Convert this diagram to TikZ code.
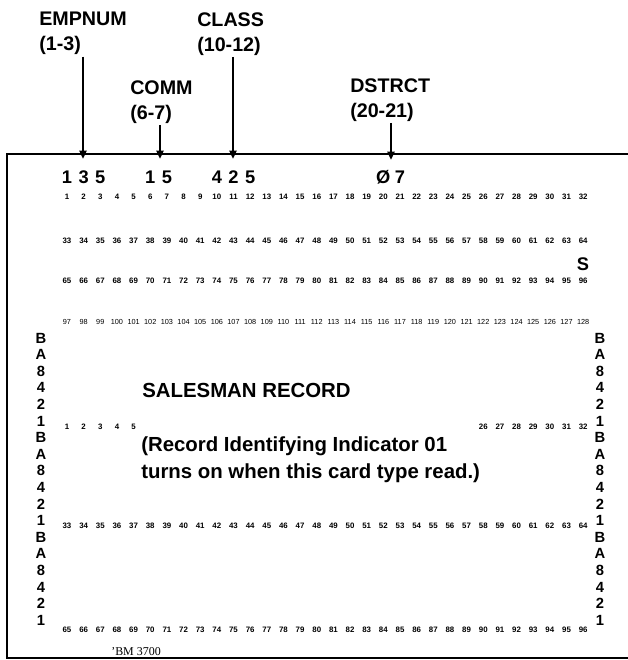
\documentclass[tikz,border=0pt]{standalone}
\usepackage{fontspec}
\setmainfont{Liberation Sans}
\setsansfont{Liberation Sans}
\newfontfamily\cardserif{Liberation Serif}
\usetikzlibrary{arrows.meta, positioning}

\begin{document}
\begin{tikzpicture}[
    x=0.025cm, y=-0.025cm,
    font=\sffamily,
    >={Triangle[length=6pt, width=5pt]},
    fieldname/.style={anchor=north west, inner sep=0pt, align=left, font=\sffamily\bfseries\fontsize{14}{17.8}\selectfont},
    punch/.style={inner sep=0pt, font=\sffamily\bfseries\fontsize{13}{13}\selectfont},
    colnum/.style={inner sep=0pt, font=\sffamily\bfseries\fontsize{5.6}{6}\selectfont},
    thinnum/.style={inner sep=0pt, font=\sffamily\fontsize{5.2}{6}\selectfont},
    zone/.style={inner sep=0pt, font=\sffamily\bfseries\fontsize{10.5}{10.5}\selectfont},
    note/.style={anchor=base west, inner sep=0pt, font=\sffamily\bfseries\fontsize{14.5}{14.5}\selectfont},
    fieldarrow/.style={->, line width=1.5pt, shorten <=1pt},
    cardedge/.style={line width=1.8pt},
]
    \useasboundingbox (0,0) rectangle (628,660);

    % Card outline (open on the right)
    \coordinate (cardTR) at (628,154);
    \coordinate (cardTL) at (7,154);
    \coordinate (cardBL) at (7,658);
    \coordinate (cardBR) at (628,658);
    \draw[cardedge] (cardTR) -- (cardTL) -- (cardBL) -- (cardBR);

    % Field names
    \node[fieldname] (empnum) at (39,12) {EMPNUM\\(1-3)};
    \node[fieldname] (class) at (197,12) {CLASS\\(10-12)};
    \node[fieldname] (comm) at (130,80) {COMM\\(6-7)};
    \node[fieldname] (dstrct) at (350,78) {DSTRCT\\(20-21)};

    % Where the arrows hit the card
    \coordinate (empnum-hit) at (83,159);
    \coordinate (comm-hit) at (160,159);
    \coordinate (class-hit) at (233,159);
    \coordinate (dstrct-hit) at (391,160);

    % Punched data
    \foreach \c/\d in {1/1, 2/3, 3/5, 6/1, 7/5, 10/4, 11/2, 12/5, 20/Ø, 21/7}
        \node[punch] (p\c) at ({67+(\c-1)*16.65},177) {\d};

    % Upper print rows
    \foreach \c in {1,...,32}
        \node[colnum] (c\c) at ({67+(\c-1)*16.65},197) {\c};
    \foreach \c [evaluate=\c as \n using int(\c+32)] in {1,...,32}
        \node[colnum] (c\n) at ({67+(\c-1)*16.65},241) {\n};
    \foreach \c [evaluate=\c as \n using int(\c+64)] in {1,...,32}
        \node[colnum] (c\n) at ({67+(\c-1)*16.65},281) {\n};
    \foreach \c [evaluate=\c as \n using int(\c+96)] in {1,...,32}
        \node[thinnum] (c\n) at ({67+(\c-1)*16.65},322) {\n};
    \node[punch] (sign) at (583,264) {S};

    % Zone / digit stacks
    \foreach \t [count=\i from 0] in {B,A,8,4,2,1,B,A,8,4,2,1,B,A,8,4,2,1} {
        \node[zone] (zl\i) at (41,{338+\i*16.6}) {\t};
        \node[zone] (zr\i) at (600,{338+\i*16.6}) {\t};
    }

    % Lower print rows
    \foreach \c in {1,...,5}
        \node[colnum] (l\c) at ({67+(\c-1)*16.65},427) {\c};
    \foreach \c in {26,...,32}
        \node[colnum] (l\c) at ({67+(\c-1)*16.65},427) {\c};
    \foreach \c [evaluate=\c as \n using int(\c+32)] in {1,...,32}
        \node[colnum] (l\n) at ({67+(\c-1)*16.65},526) {\n};
    \foreach \c [evaluate=\c as \n using int(\c+64)] in {1,...,32}
        \node[colnum] (l\n) at ({67+(\c-1)*16.65},630) {\n};

    % Card title
    \node[note] (title) at (142,397) {SALESMAN RECORD};
    \node[note] (rii) at (141,451) {(Record Identifying Indicator 01};
    \node[note] (rii2) at (141,478) {turns on when this card type read.)};

    % Form number
    \node[anchor=base west, inner sep=0pt, font=\cardserif\fontsize{8.5}{8.5}\selectfont] (form) at (111,655) {’BM 3700};

    % Arrows
    \draw[fieldarrow] (empnum.south -| empnum-hit) -- (empnum-hit);
    \draw[fieldarrow] (comm.south -| comm-hit) -- (comm-hit);
    \draw[fieldarrow] (class.south -| class-hit) -- (class-hit);
    \draw[fieldarrow] (dstrct.south -| dstrct-hit) -- (dstrct-hit);

\end{tikzpicture}
\end{document}
